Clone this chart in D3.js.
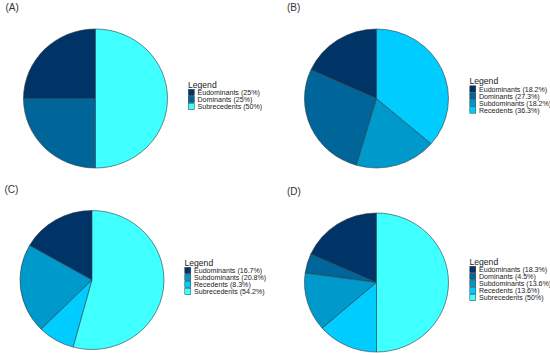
<!DOCTYPE html>
<html lang="en">

<head>
    <meta charset="UTF-8">
    <title>Dominance pie charts</title>
    <style>
        body { margin: 0; background: #fff; }
        text { font-family: "Liberation Sans", Arial, sans-serif; }
    </style>
</head>

<body>
    <script src="https://d3js.org/d3.v7.min.js"></script>
    <script>
        // Data per panel (legend order, slices drawn counter-clockwise from 12 o'clock)
        const catsA = ['Eudominants', 'Dominants', 'Subrecedents'];
        const valsA = [25, 25, 50];
        const labelsA = ['25%', '25%', '50%'];

        const catsB = ['Eudominants', 'Dominants', 'Subdominants', 'Recedents'];
        const valsB = [18.2, 27.3, 18.2, 36.3];
        const labelsB = ['18.2%', '27.3%', '18.2%', '36.3%'];

        const catsC = ['Eudominants', 'Subdominants', 'Recedents', 'Subrecedents'];
        const valsC = [16.7, 20.8, 8.3, 54.2];
        const labelsC = ['16.7%', '20.8%', '8.3%', '54.2%'];

        const catsD = ['Eudominants', 'Dominants', 'Subdominants', 'Recedents', 'Subrecedents'];
        const valsD = [18.3, 4.5, 13.6, 13.6, 50];
        const labelsD = ['18.3%', '4.5%', '13.6%', '13.6%', '50%'];

        const allCats = ['Eudominants', 'Dominants', 'Subdominants', 'Recedents', 'Subrecedents'];
        const colour = d3.scaleOrdinal()
            .domain(allCats)
            .range(['#003366', '#006699', '#0099cc', '#00ccff', '#40ffff']);

        const W = 550, H = 355;
        const RX = 72, RY = 69.5;
        const ROW = 7;

        const panels = [
            { tag: '(A)', cats: catsA, vals: valsA, labels: labelsA, cx: 95.5, cy: 98.5, tx: 5.5, ty: 11, lx: 188 },
            { tag: '(B)', cats: catsB, vals: valsB, labels: labelsB, cx: 376.5, cy: 98.5, tx: 287, ty: 11, lx: 469.5 },
            { tag: '(C)', cats: catsC, vals: valsC, labels: labelsC, cx: 92, cy: 280, tx: 4.5, ty: 193, lx: 184.5 },
            { tag: '(D)', cats: catsD, vals: valsD, labels: labelsD, cx: 376.5, cy: 282.5, tx: 287, ty: 195, lx: 469.5 }
        ];

        const svg = d3.select('body')
            .append('svg')
            .attr('width', W)
            .attr('height', H);

        const pie = d3.pie()
            .sort(null)
            .value(d => d.v)
            .startAngle(0)
            .endAngle(-2 * Math.PI);

        const arc = d3.arc().innerRadius(0).outerRadius(RX);

        panels.forEach(p => {
            const data = p.cats.map((c, i) => ({ c: c, v: p.vals[i], l: p.labels[i] }));

            svg.append('text')
                .attr('x', p.tx)
                .attr('y', p.ty)
                .style('font-size', '10px')
                .attr('fill', '#333')
                .text(p.tag);

            const g = svg.append('g')
                .attr('transform', `translate(${p.cx}, ${p.cy}) scale(1, ${RY / RX})`);

            g.selectAll('path')
                .data(pie(data))
                .enter()
                .append('path')
                .attr('d', arc)
                .attr('fill', d => colour(d.data.c))
                .attr('stroke', '#2a3a44')
                .attr('stroke-width', 0.6)
                .attr('vector-effect', 'non-scaling-stroke')
                .attr('stroke-linejoin', 'round');

            // legend, centred on the pie
            const n = data.length;
            const top = p.cy - n * ROW / 2 + 1;
            const leg = svg.append('g').attr('transform', `translate(${p.lx}, ${top})`);

            leg.append('text')
                .attr('x', 0)
                .attr('y', -1.5)
                .style('font-size', '8.6px')
                .attr('fill', '#222')
                .text('Legend');

            const rows = leg.selectAll('g.row')
                .data(data)
                .enter()
                .append('g')
                .attr('class', 'row')
                .attr('transform', (d, i) => `translate(0, ${i * ROW})`);

            rows.append('rect')
                .attr('x', 0.3)
                .attr('y', 0.3)
                .attr('width', 6)
                .attr('height', ROW - 0.6)
                .attr('fill', d => colour(d.c))
                .attr('stroke', '#2a3a44')
                .attr('stroke-width', 0.5);

            rows.append('text')
                .attr('x', 9.5)
                .attr('y', ROW - 0.9)
                .style('font-size', '7.1px')
                .attr('fill', '#222')
                .text(d => `${d.c} (${d.l})`);
        });
    </script>
</body>

</html>
